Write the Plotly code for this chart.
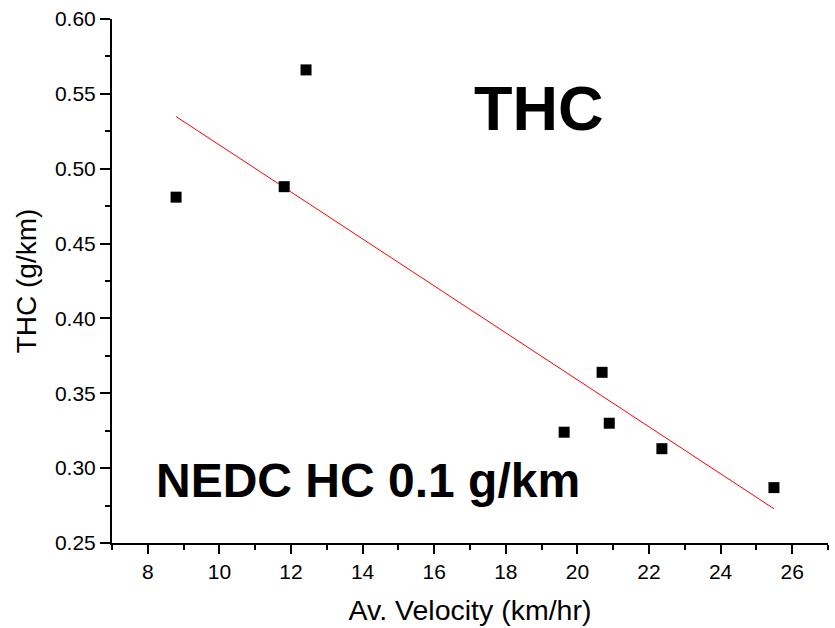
import numpy as np
import plotly.graph_objects as go

velocity = [8.79, 11.81, 12.42, 19.63, 20.69, 20.89, 22.36, 25.49]
thc = [0.481, 0.488, 0.566, 0.324, 0.364, 0.330, 0.313, 0.287]

x_tick_vals = [8, 10, 12, 14, 16, 18, 20, 22, 24, 26]
y_tick_vals = [0.25, 0.30, 0.35, 0.40, 0.45, 0.50, 0.55, 0.60]
y_tick_text = ["0.25", "0.30", "0.35", "0.40", "0.45", "0.50", "0.55", "0.60"]

slope, intercept = np.polyfit(velocity, thc, 1)
fit_x = [min(velocity), max(velocity)]
fit_y = [slope * v + intercept for v in fit_x]

FONT = "Liberation Sans, Arial, Helvetica, sans-serif"

fig = go.Figure()
fig.add_trace(go.Scatter(x=fit_x, y=fit_y, mode="lines",
                         line=dict(color="#ff0000", width=1), showlegend=False))
fig.add_trace(go.Scatter(x=velocity, y=thc, mode="markers",
                         marker=dict(symbol="square", size=11, color="black"),
                         showlegend=False))

fig.add_annotation(x=18.9, y=0.5405, xref="x", yref="y", text="<b>THC</b>",
                   showarrow=False, font=dict(family=FONT, size=63, color="black"))
fig.add_annotation(x=14.14, y=0.2915, xref="x", yref="y", text="<b>NEDC HC 0.1 g/km</b>",
                   showarrow=False, font=dict(family=FONT, size=48, color="black"))

fig.update_layout(
    width=835, height=628,
    margin=dict(l=112, r=7, t=15, b=84),
    paper_bgcolor="white", plot_bgcolor="white",
    font=dict(family=FONT, color="black"),
    xaxis=dict(range=[7, 27], tickvals=x_tick_vals, ticks="outside", ticklen=9, tickwidth=2,
               tickcolor="black", showline=True, linecolor="black", linewidth=2,
               showgrid=False, zeroline=False, tickfont=dict(size=21),
               minor=dict(dtick=1, tick0=7, ticks="outside", ticklen=5, tickwidth=2, tickcolor="black"),
               title=dict(text="Av. Velocity (km/hr)", font=dict(size=28.5), standoff=18)),
    yaxis=dict(range=[0.25, 0.60], tickvals=y_tick_vals, ticktext=y_tick_text, ticks="outside",
               ticklen=10, tickwidth=2, tickcolor="black", showline=True, linecolor="black",
               linewidth=2, showgrid=False, zeroline=False, tickfont=dict(size=21),
               minor=dict(dtick=0.025, tick0=0.25, ticks="outside", ticklen=5, tickwidth=2, tickcolor="black"),
               title=dict(text="THC (g/km)", font=dict(size=28), standoff=10)),
)

fig.write_html("out.html")
